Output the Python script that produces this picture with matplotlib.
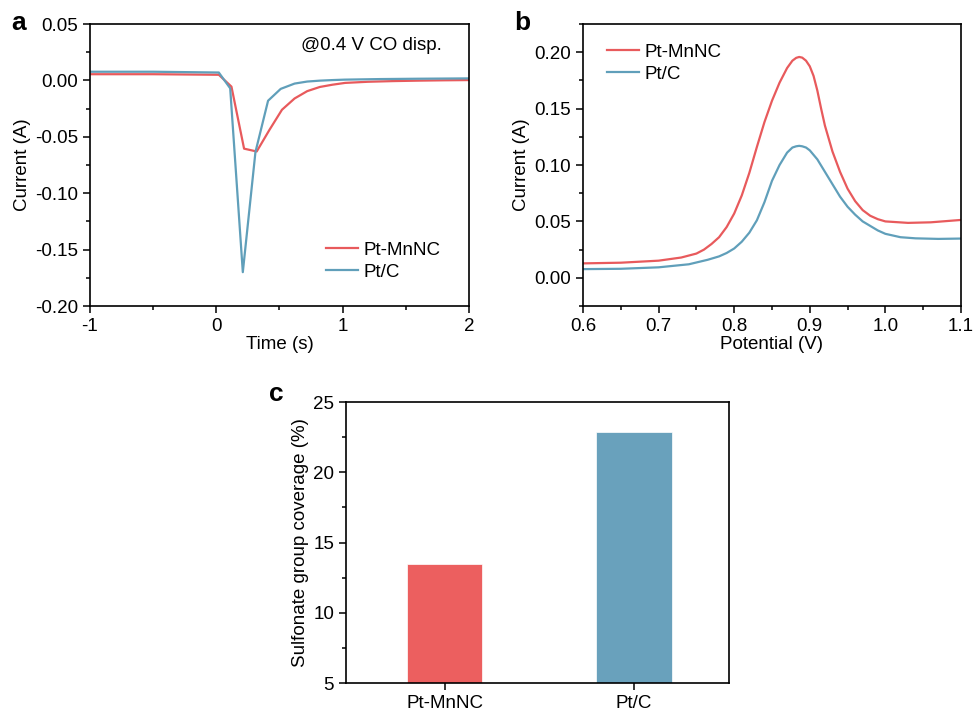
import matplotlib
matplotlib.use("Agg")
import matplotlib.pyplot as plt
from matplotlib.ticker import MultipleLocator

plt.rcParams['font.family'] = ['Liberation Sans', 'DejaVu Sans']
plt.rcParams['font.size'] = 13.5
plt.rcParams['axes.unicode_minus'] = False

RED = '#e85a5c'
BLUE = '#609fba'
BAR_RED = '#ec5f5f'
BAR_BLUE = '#69a1bc'

# panel a: CO displacement transient
t_mnnc = [-1.0, -0.5, 0.02, 0.12, 0.22, 0.32, 0.42, 0.52, 0.62, 0.72, 0.82, 0.92,
          1.02, 1.2, 1.4, 1.6, 1.8, 2.0]
i_mnnc = [0.0055, 0.0055, 0.0050, -0.0055, -0.0605, -0.0630, -0.0440, -0.0260,
          -0.0160, -0.0095, -0.0058, -0.0038, -0.0022, -0.0012, -0.0006, -0.0002,
          0.0001, 0.0003]
t_ptc = [-1.0, -0.5, 0.02, 0.11, 0.21, 0.31, 0.41, 0.51, 0.62, 0.72, 0.82, 0.92,
         1.02, 1.3, 1.6, 2.0]
i_ptc = [0.0077, 0.0077, 0.0070, -0.0070, -0.1700, -0.0635, -0.0180, -0.0075,
         -0.0028, -0.0010, -0.0002, 0.0003, 0.0007, 0.0012, 0.0015, 0.0018]

# panel b: CO stripping
v_mnnc = [0.60, 0.65, 0.70, 0.73, 0.75, 0.76, 0.77, 0.78, 0.79, 0.80, 0.81, 0.82,
          0.83, 0.84, 0.85, 0.86, 0.87, 0.877, 0.882, 0.886, 0.890, 0.895, 0.900,
          0.905, 0.91, 0.915, 0.92, 0.93, 0.94, 0.95, 0.96, 0.97, 0.98, 0.99,
          1.00, 1.03, 1.06, 1.10]
j_mnnc = [0.0128, 0.0134, 0.0152, 0.0180, 0.0215, 0.0250, 0.0300, 0.0360, 0.0450,
          0.0570, 0.0730, 0.0930, 0.1160, 0.1380, 0.1570, 0.1730, 0.1860, 0.1925,
          0.1950, 0.1958, 0.1952, 0.1925, 0.1875, 0.1790, 0.1660, 0.1500, 0.1350,
          0.1120, 0.0940, 0.0790, 0.0680, 0.0600, 0.0550, 0.0520, 0.0500, 0.0487,
          0.0492, 0.0513]
v_ptc = [0.60, 0.65, 0.70, 0.74, 0.765, 0.78, 0.79, 0.80, 0.81, 0.82, 0.83, 0.84,
         0.85, 0.86, 0.87, 0.877, 0.882, 0.886, 0.890, 0.895, 0.90, 0.91, 0.92,
         0.93, 0.94, 0.95, 0.96, 0.97, 0.98, 0.99, 1.00, 1.02, 1.04, 1.07, 1.10]
j_ptc = [0.0077, 0.0080, 0.0093, 0.0120, 0.0160, 0.0190, 0.0220, 0.0260, 0.0320,
         0.0400, 0.0510, 0.0670, 0.0860, 0.1000, 0.1110, 0.1155, 0.1166, 0.1170,
         0.1166, 0.1155, 0.1130, 0.1050, 0.0940, 0.0830, 0.0720, 0.0630, 0.0560,
         0.0500, 0.0460, 0.0420, 0.0390, 0.0360, 0.0350, 0.0345, 0.0348]

# panel c: sulfonate coverage
samples = ['Pt-MnNC', 'Pt/C']
coverage = [13.5, 22.9]


def style(ax):
    for s in ax.spines.values():
        s.set_linewidth(1.2)
    ax.tick_params(which='both', direction='out', top=False, right=False, width=1.1)
    ax.tick_params(which='major', length=5)
    ax.tick_params(which='minor', length=3)


fig = plt.figure(figsize=(9.74, 7.17), dpi=100)

ax1 = fig.add_axes([0.0924, 0.5732, 0.389, 0.3933])
ax1.plot(t_mnnc, i_mnnc, color=RED, lw=1.6, label='Pt-MnNC')
ax1.plot(t_ptc, i_ptc, color=BLUE, lw=1.6, label='Pt/C')
ax1.set_xlim(-1, 2)
ax1.set_ylim(-0.20, 0.05)
ax1.xaxis.set_major_locator(MultipleLocator(1))
ax1.xaxis.set_minor_locator(MultipleLocator(0.5))
ax1.yaxis.set_major_locator(MultipleLocator(0.05))
ax1.yaxis.set_minor_locator(MultipleLocator(0.025))
ax1.yaxis.set_major_formatter(lambda v, p: f'{v:.2f}')
ax1.set_xlabel('Time (s)', labelpad=1)
ax1.set_ylabel('Current (A)', labelpad=3)
ax1.text(0.93, 0.925, '@0.4 V CO disp.', transform=ax1.transAxes, ha='right',
         va='center')
ax1.legend(loc='lower right', frameon=False, handlelength=1.7, handletextpad=0.3,
           labelspacing=0.25, bbox_to_anchor=(0.97, 0.03))
style(ax1)

ax2 = fig.add_axes([0.5986, 0.5732, 0.388, 0.3933])
ax2.plot(v_mnnc, j_mnnc, color=RED, lw=1.6, label='Pt-MnNC')
ax2.plot(v_ptc, j_ptc, color=BLUE, lw=1.6, label='Pt/C')
ax2.set_xlim(0.6, 1.1)
ax2.set_ylim(-0.025, 0.225)
ax2.xaxis.set_major_locator(MultipleLocator(0.1))
ax2.xaxis.set_minor_locator(MultipleLocator(0.05))
ax2.yaxis.set_major_locator(MultipleLocator(0.05))
ax2.yaxis.set_minor_locator(MultipleLocator(0.025))
ax2.yaxis.set_major_formatter(lambda v, p: f'{v:.2f}')
ax2.set_xlabel('Potential (V)', labelpad=1)
ax2.set_ylabel('Current (A)', labelpad=3)
ax2.legend(loc='upper left', frameon=False, handlelength=1.7, handletextpad=0.3,
           labelspacing=0.25, bbox_to_anchor=(0.02, 0.99))
style(ax2)

ax3 = fig.add_axes([0.3552, 0.0474, 0.3932, 0.3919])
ax3.bar(range(len(samples)), coverage, width=0.4, bottom=0,
        color=[BAR_RED, BAR_BLUE], edgecolor='white', linewidth=0.5)
ax3.set_xlim(-0.52, 1.5)
ax3.set_ylim(5, 25)
ax3.set_xticks(range(len(samples)))
ax3.set_xticklabels(samples)
ax3.yaxis.set_major_locator(MultipleLocator(5))
ax3.yaxis.set_minor_locator(MultipleLocator(2.5))
ax3.set_ylabel('Sulfonate group coverage (%)', labelpad=3)
style(ax3)

fig.text(0.012, 0.968, 'a', fontsize=19, fontweight='heavy', va='center')
fig.text(0.528, 0.968, 'b', fontsize=19, fontweight='heavy', va='center')
fig.text(0.276, 0.450, 'c', fontsize=19, fontweight='heavy', va='center')

fig.savefig('out.png', dpi=100)
